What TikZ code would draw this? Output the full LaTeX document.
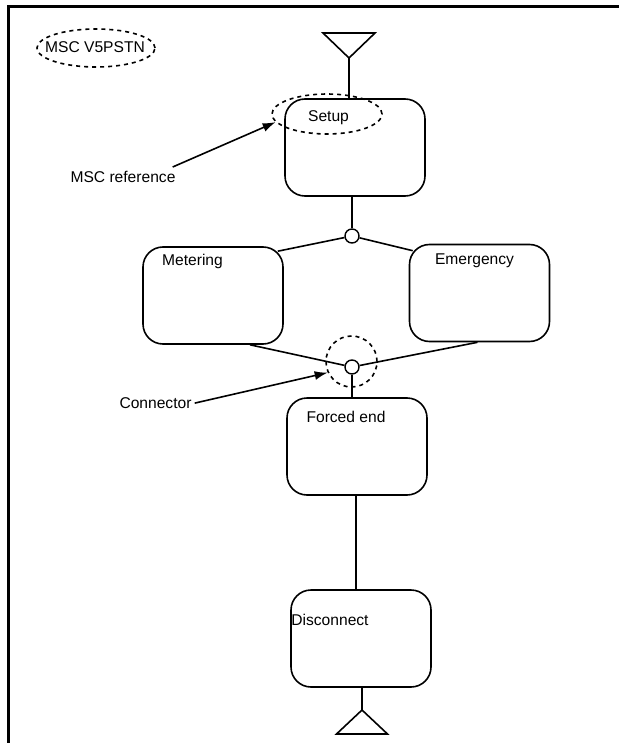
\documentclass[tikz,border=0pt]{standalone}
\usepackage{fontspec}
\setmainfont{Liberation Sans}
\usetikzlibrary{shapes.geometric,arrows.meta,calc}
\begin{document}
\begin{tikzpicture}[x=1pt,y=-1pt,
  every node/.style={font=\fontsize{15.6}{18}\selectfont},
  mscbox/.style={draw, line width=1.6pt, rounded corners=20pt, minimum width=140pt, minimum height=97pt, inner sep=0pt},
  ln/.style={line width=1.6pt},
  dsh/.style={draw, dash pattern=on 4pt off 4pt, line width=1.6pt},
  conn/.style={circle, draw, line width=1.4pt, fill=white, minimum size=14pt, inner sep=0pt},
  lbl/.style={inner sep=0pt},
  arr/.style={line width=1.6pt, -{Latex[length=13pt,width=9pt]}}]
\useasboundingbox (0,0) rectangle (619,743);
% frame
\draw[line width=2.4pt] (8.5,743) -- (8.5,6.5) -- (619,6.5);
% title
\node[ellipse, dsh, minimum width=118pt, minimum height=38pt, inner sep=0pt] (title) at (96,48) {};
\node[lbl, anchor=base] (titletxt) at (95,53) {MSC V5PSTN};
% boxes
\node[mscbox] (setup) at (355,147.5) {};
\node[mscbox] (meter) at (213,295.5) {};
\node[mscbox] (emerg) at (479.5,293) {};
\node[mscbox] (forced) at (357,446.5) {};
\node[mscbox] (disc) at (361,638.5) {};
% texts
\node[ellipse, dsh, minimum width=110pt, minimum height=40pt, inner sep=0pt] (setupref) at (327,114) {};
\node[lbl, anchor=base] (setuptxt) at (328.5,121.5) {Setup};
\node[lbl, anchor=base] (metertxt) at (192.5,265.5) {Metering};
\node[lbl, anchor=base] (emergtxt) at (474.5,264.5) {Emergency};
\node[lbl, anchor=base] (forcedtxt) at (346,422.5) {Forced end};
\node[lbl, anchor=base] (disctxt) at (330,625.5) {Disconnect};
% connectors
\node[conn] (c1) at (352,236) {};
\node[conn] (c2) at (352,367) {};
\node[circle, dsh, minimum size=51pt, inner sep=0pt] (dashc) at (351.5,361.5) {};
\draw[ln] (c1) -- (c1 |- setup.south);
\draw[ln] (c1) -- ($(meter.north east)+(-6,5)$);
\draw[ln] (c1) -- ($(emerg.north west)+(4,7)$);
\draw[ln] ($(meter.south)+(37,0)$) -- (c2);
\draw[ln] ($(emerg.south)+(-2,0)$) -- (c2);
\draw[ln] (c2) -- (c2 |- forced.north);
\coordinate (fd) at (356,0);
\draw[ln] (fd |- forced.south) -- (fd |- disc.north);
% start / end symbols
\coordinate (ttip) at (349,58);
\draw[ln] (ttip) -- (ttip |- setup.north);
\draw[ln, line join=miter] (ttip) -- ++(-26,-25) -- ++(52,0) -- cycle;
\coordinate (btip) at (362,710);
\draw[ln] (btip |- disc.south) -- (btip);
\draw[ln, line join=miter] (btip) -- ++(-25.5,24) -- ++(51,0) -- cycle;
% annotations
\node[lbl, anchor=base] (mscref) at (123,182.5) {MSC reference};
\draw[arr] ($(mscref.north east)+(-3,-4)$) -- (setupref.189);
\node[lbl, anchor=base] (connlbl) at (155.5,408.5) {Connector};
\draw[arr] ($(connlbl.east)+(3,0)$) -- (dashc.205);
\end{tikzpicture}
\end{document}
